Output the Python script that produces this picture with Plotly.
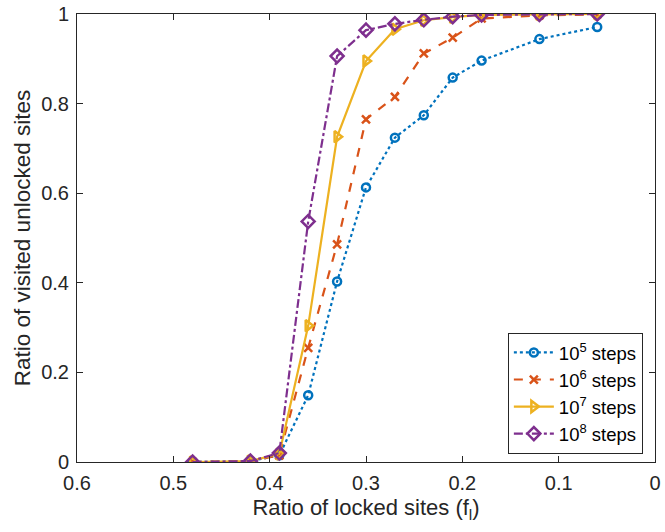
import plotly.graph_objects as go

x_vals = [0.48, 0.42, 0.39, 0.36, 0.33, 0.30, 0.27, 0.24, 0.21, 0.18, 0.12, 0.06]
steps_1e5 = [0.0, 0.002, 0.015, 0.149, 0.403, 0.613, 0.724, 0.774, 0.858, 0.896, 0.944, 0.971]
steps_1e6 = [0.0, 0.002, 0.015, 0.255, 0.486, 0.765, 0.815, 0.912, 0.947, 0.990, 0.997, 0.999]
steps_1e7 = [0.0, 0.002, 0.018, 0.304, 0.726, 0.895, 0.966, 0.986, 0.993, 0.998, 0.999, 1.0]
steps_1e8 = [0.0, 0.002, 0.020, 0.537, 0.906, 0.964, 0.978, 0.987, 0.994, 0.998, 0.999, 1.0]
series_names = ["10<sup>5</sup> steps", "10<sup>6</sup> steps", "10<sup>7</sup> steps", "10<sup>8</sup> steps"]
x_ticks = [0.6, 0.5, 0.4, 0.3, 0.2, 0.1, 0]
x_tick_text = ["0.6", "0.5", "0.4", "0.3", "0.2", "0.1", "0"]
y_ticks = [0, 0.2, 0.4, 0.6, 0.8, 1]
y_tick_text = ["0", "0.2", "0.4", "0.6", "0.8", "1"]

styles = [
    dict(color="#0072BD", dash="dot", symbol="circle-open", size=8),
    dict(color="#D95319", dash="dash", symbol="x-thin-open", size=8),
    dict(color="#EDB120", dash="solid", symbol="triangle-right-open", size=10),
    dict(color="#7E2F8E", dash="dashdot", symbol="diamond-open", size=10),
]

fig = go.Figure()
for name, ys, st in zip(series_names, [steps_1e5, steps_1e6, steps_1e7, steps_1e8], styles):
    fig.add_trace(go.Scatter(
        x=x_vals, y=ys, name=name, mode="lines+markers",
        line=dict(color=st["color"], width=2.2, dash=st["dash"]),
        marker=dict(symbol=st["symbol"], size=st["size"], color=st["color"],
                    line=dict(color=st["color"], width=2.5)),
    ))

axis_common = dict(
    showline=True, linecolor="#262626", linewidth=1, mirror="ticks",
    ticks="inside", ticklen=6, tickcolor="#262626", showgrid=False, zeroline=False,
    automargin=False, ticklabelstandoff=3,
    tickfont=dict(family="Liberation Sans, Arial", size=20, color="#262626"),
)

fig.update_layout(
    width=665, height=532,
    margin=dict(l=77, r=10, t=14, b=70),
    paper_bgcolor="white", plot_bgcolor="white",
    font=dict(family="Liberation Sans, Arial", color="#262626"),
    xaxis=dict(range=[0.6, 0], tickvals=x_ticks, ticktext=x_tick_text,
               title=dict(text="Ratio of locked sites (f<sub>l</sub>)", font=dict(size=22), standoff=6),
               **axis_common),
    yaxis=dict(range=[0, 1], tickvals=y_ticks, ticktext=y_tick_text,
               title=dict(text="Ratio of visited unlocked sites", font=dict(size=22.5), standoff=4),
               **axis_common),
    legend=dict(x=0.979, y=0.018, xanchor="right", yanchor="bottom",
                bgcolor="white", bordercolor="#262626", borderwidth=1,
                font=dict(size=18.5, color="#000000"), itemwidth=40, tracegroupgap=0),
)

fig.write_html("out.html", config={"displayModeBar": False},
               post_script="document.body.style.margin='0';")
